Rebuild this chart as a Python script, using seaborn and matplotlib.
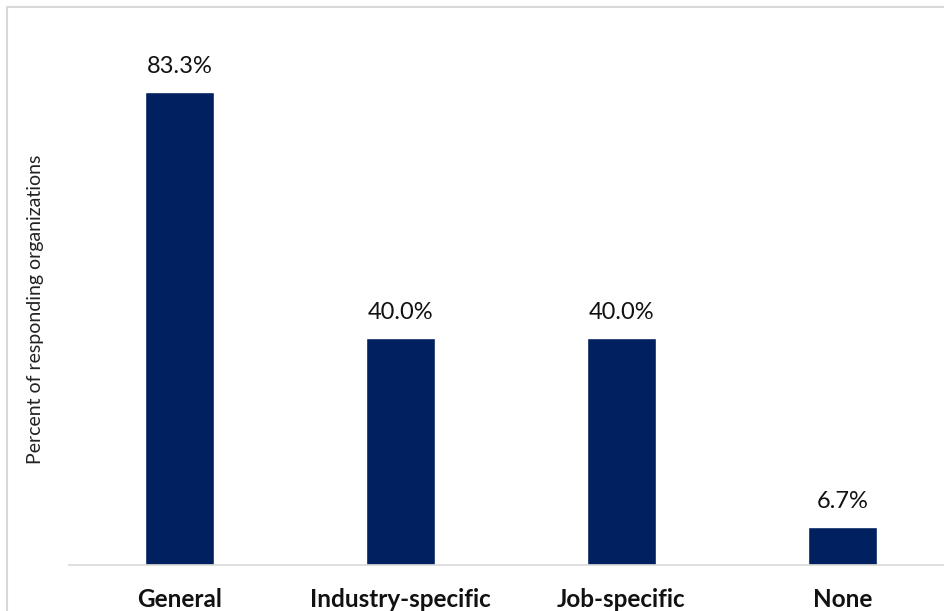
import matplotlib
matplotlib.use("Agg")
import matplotlib.pyplot as plt
from matplotlib.patches import Rectangle
import seaborn as sns
import pandas as pd

categories = ["General", "Industry-specific", "Job-specific", "None"]
values = [83.3, 40.0, 40.0, 6.7]
value_labels = ["83.3%", "40.0%", "40.0%", "6.7%"]

df = pd.DataFrame({"category": categories, "value": values})

sns.set_theme(style="white")
plt.rcParams["font.family"] = ["Lato", "DejaVu Sans"]

fig = plt.figure(figsize=(9.44, 6.11), dpi=100)
ax = fig.add_axes([69 / 944, 46 / 611, (953 - 69) / 944, 511 / 611])

sns.barplot(data=df, x="category", y="value", color="#002060",
            saturation=1, width=0.31, ax=ax)

for patch, lbl in zip(ax.patches, value_labels):
    ax.text(patch.get_x() + patch.get_width() / 2, patch.get_height() + 3.4,
            lbl, ha="center", va="baseline", fontsize=17, color="#111111")

ax.set_xlim(-0.5, 3.5)
ax.set_ylim(0, 90)
ax.set_yticks([])
ax.set_xlabel("")
ax.set_ylabel("Percent of responding organizations", fontsize=14,
              color="#222222", labelpad=18)
ax.tick_params(axis="x", length=0, pad=16.5)
for lab in ax.get_xticklabels():
    lab.set_fontweight("bold")
    lab.set_fontsize(17.5)
    lab.set_color("#111111")

for side in ["top", "right", "left"]:
    ax.spines[side].set_visible(False)
ax.spines["bottom"].set_color("#d9d9d9")
ax.spines["bottom"].set_linewidth(1.2)

# outer chart frame
fig.patches.append(Rectangle((6.5 / 944, -0.1), 1.2, 1.1 - 6.5 / 611,
                             transform=fig.transFigure, fill=False,
                             edgecolor="#d9d9d9", linewidth=1.5))

fig.savefig("out.png", dpi=100)
